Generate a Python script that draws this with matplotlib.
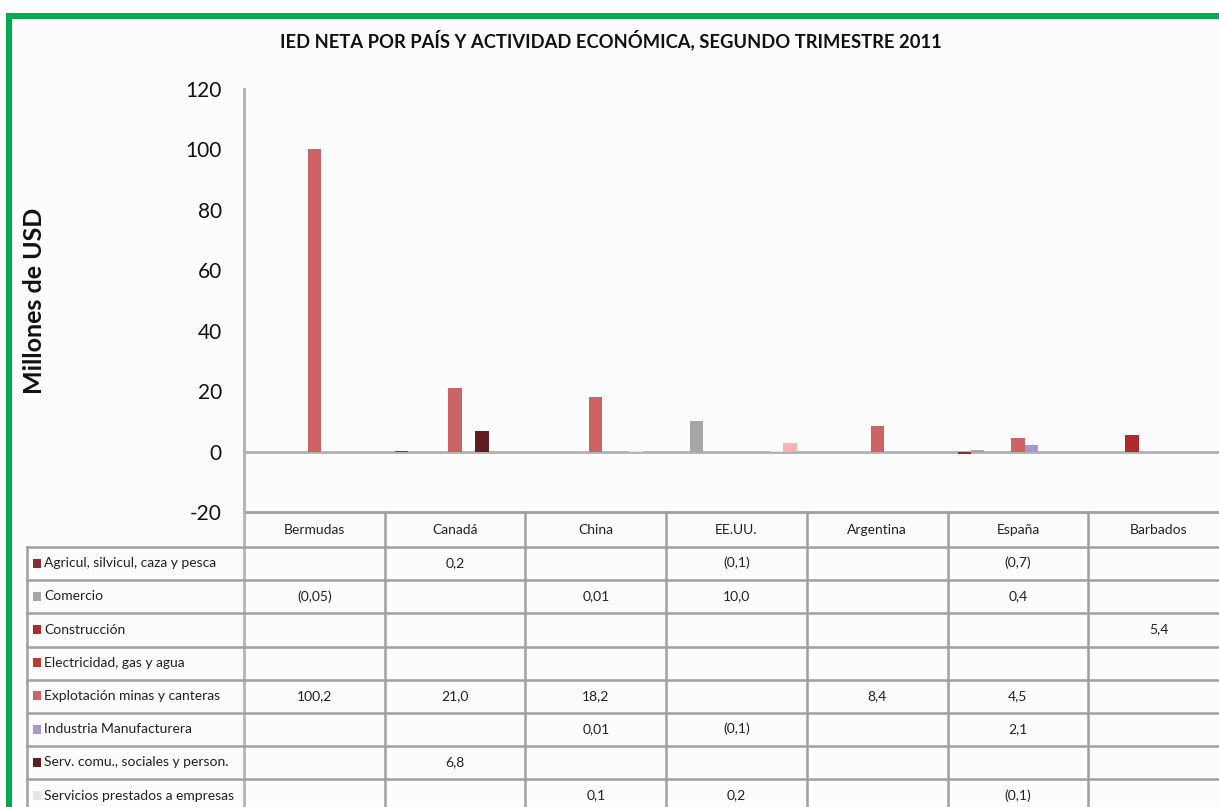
import numpy as np
import matplotlib.pyplot as plt
from matplotlib.lines import Line2D
from matplotlib.patches import Rectangle

plt.rcParams['font.family'] = ['Lato', 'DejaVu Sans']
plt.rcParams['axes.unicode_minus'] = False

paises = ['Bermudas', 'Canadá', 'China', 'EE.UU.', 'Argentina', 'España', 'Barbados']

actividades = [
    'Agricul, silvicul, caza y pesca',
    'Comercio',
    'Construcción',
    'Electricidad, gas y agua',
    'Explotación minas y canteras',
    'Industria Manufacturera',
    'Serv. comu., sociales y person.',
    'Servicios prestados a empresas',
    'Transporte y comunicaciones',
]

# millones de USD, None = sin dato
agricultura  = [None, 0.2, None, -0.1, None, -0.7, None]
comercio     = [-0.05, None, 0.01, 10.0, None, 0.4, None]
construccion = [None, None, None, None, None, None, 5.4]
electricidad = [None, None, None, None, None, None, None]
explotacion  = [100.2, 21.0, 18.2, None, 8.4, 4.5, None]
industria    = [None, None, 0.01, -0.1, None, 2.1, None]
serv_comu    = [None, 6.8, None, None, None, None, None]
serv_empresa = [None, None, 0.1, 0.2, None, -0.1, None]
transporte   = [None, None, None, 2.8, None, None, None]

series = [agricultura, comercio, construccion, electricidad, explotacion,
          industria, serv_comu, serv_empresa, transporte]

colores = ['#8E2B2B', '#A6A6A6', '#B02A2A', '#C0392F', '#CB6462',
           '#A898C8', '#5E1E1E', '#E8E2EE', '#FFB0B0']

W, H = 1219, 807
fig = plt.figure(figsize=(W / 100, H / 100), dpi=100)
fig.patch.set_facecolor('white')

# fondo y marco verde (recortado a la derecha y abajo)
bg = fig.add_axes([0, 0, 1, 1])
bg.set_xlim(0, W)
bg.set_ylim(H, 0)
bg.axis('off')
bg.add_patch(Rectangle((12, 19), W, H, facecolor='#FCFCFC', edgecolor='none'))
bg.add_patch(Rectangle((6, 13), W, 6, facecolor='#00AC4E', edgecolor='none'))
bg.add_patch(Rectangle((6, 13), 6, H, facecolor='#00AC4E', edgecolor='none'))

# area del grafico en pixeles
x0, x1 = 244, 1229
ytop, ybot = 89, 512
ax = fig.add_axes([x0 / W, 1 - ybot / H, (x1 - x0) / W, (ybot - ytop) / H])
ax.patch.set_alpha(0)

n = len(series)
w = 1 / (n + 1.5)
x = np.arange(len(paises))
for i, s in enumerate(series):
    vals = [v if v is not None else 0 for v in s]
    ax.bar(x + (i - (n - 1) / 2) * w, vals, w, color=colores[i], zorder=3)

ax.set_xlim(-0.5, len(paises) - 0.5)
ax.set_ylim(-20, 120)
ax.set_yticks(range(-20, 121, 20))
ax.tick_params(axis='y', length=0, labelsize=15, pad=16, labelcolor='#111111')
ax.tick_params(axis='x', length=0, labelbottom=False)
ax.axhline(0, color='#B0B0B0', lw=2, zorder=2)
for sp in ['top', 'right', 'bottom']:
    ax.spines[sp].set_visible(False)
ax.spines['left'].set_color('#B5B5B5')
ax.spines['left'].set_linewidth(2)

fig.text(611 / W, 1 - 40 / H, 'IED NETA POR PAÍS Y ACTIVIDAD ECONÓMICA, SEGUNDO TRIMESTRE 2011',
         ha='center', va='center', fontsize=13.2, fontweight='bold', color='#111111')
fig.text(35 / W, 1 - 301 / H, 'Millones de USD', rotation=90, ha='center', va='center',
         fontsize=18, fontweight='bold', color='#111111')

# tabla de datos
lc = '#A0A0A0'
colw = (x1 - x0) / len(paises)
row_h = 33.2
y_head = 512
y_rows = 547


def fmt(v):
    a = abs(v)
    s = f'{a:.1f}' if round(a, 1) == a else f'{a:.2f}'
    s = s.replace('.', ',')
    return f'({s})' if v < 0 else s


bg.add_line(Line2D([x0, W], [y_head, y_head], color=lc, lw=2))
bg.add_line(Line2D([x0, x0], [ytop, H], color='#B5B5B5', lw=2))
for j in range(1, len(paises) + 1):
    cx = x0 + j * colw
    bg.add_line(Line2D([cx, cx], [y_head, H], color=lc, lw=1.8))
for j, p in enumerate(paises):
    bg.text(x0 + (j + 0.5) * colw, (y_head + y_rows) / 2, p, ha='center', va='center',
            fontsize=10, color='#222222')

bg.add_line(Line2D([27, 27], [y_rows, H], color=lc, lw=1.8))
for i, (act, s) in enumerate(zip(actividades, series)):
    yt = y_rows + i * row_h
    if yt > H:
        break  # filas que quedan fuera del recorte
    bg.add_line(Line2D([27, W], [yt, yt], color=lc, lw=1.8))
    yc = yt + row_h / 2 - 0.5
    bg.add_patch(Rectangle((33, yc - 4.5), 8, 9, facecolor=colores[i], edgecolor='none'))
    bg.text(44, yc, act, ha='left', va='center', fontsize=10, color='#222222')
    for j, v in enumerate(s):
        if v is not None:
            bg.text(x0 + (j + 0.5) * colw, yc, fmt(v), ha='center', va='center',
                    fontsize=10, color='#222222')

fig.savefig('out.png', dpi=100)
